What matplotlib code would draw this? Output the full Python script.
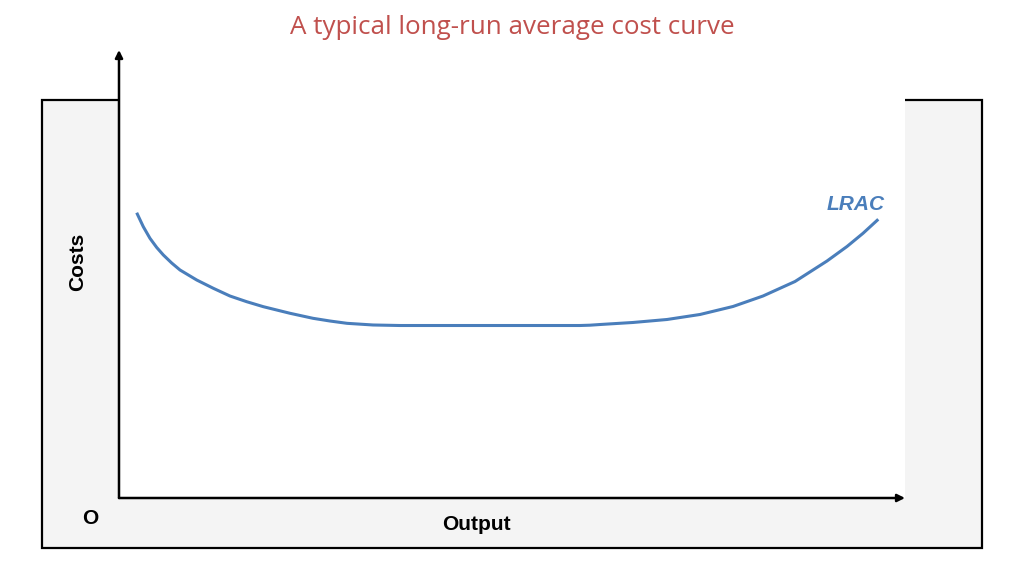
import matplotlib
matplotlib.use("Agg")
import matplotlib.pyplot as plt
from matplotlib.patches import Rectangle

# LRAC curve (output, cost), axes 0..100
output = [2.25, 3.09, 3.94, 4.80, 5.64, 6.70, 7.76, 9.89, 12.00, 14.12, 16.25, 18.36,
          21.76, 24.68, 26.84, 29.01, 32.32, 35.75, 45.93, 58.65, 59.92, 61.20, 65.39,
          69.72, 73.92, 78.12, 81.93, 86.01, 90.08, 92.62, 94.66, 96.60]
cost = [71.68, 68.17, 65.25, 62.94, 61.06, 59.05, 57.29, 54.77, 52.69, 50.75, 49.32, 48.07,
        46.41, 45.15, 44.47, 43.89, 43.47, 43.34, 43.34, 43.34, 43.42, 43.59, 44.10,
        44.85, 46.11, 48.12, 50.75, 54.40, 59.55, 63.19, 66.51, 70.03]

title = "A typical long-run average cost curve"
x_label = "Output"
y_label = "Costs"
origin_label = "O"
curve_label = "LRAC"

W, H = 1024, 576
fig = plt.figure(figsize=(W / 100, H / 100), dpi=100)

def fx(px):
    return px / W

def fy(py):
    return 1 - py / H

# gray frame
fig.patches.append(Rectangle((fx(42), fy(548)), fx(982) - fx(42), fy(100) - fy(548),
                             transform=fig.transFigure, facecolor="#f4f4f4",
                             edgecolor="black", linewidth=1.6, zorder=0))

ax = fig.add_axes([fx(119), fy(498), fx(905) - fx(119), fy(97) - fy(498)])
ax.set_facecolor("white")
ax.set_zorder(1)
for s in ax.spines.values():
    s.set_visible(False)
ax.set_xticks([])
ax.set_yticks([])
ax.set_xlim(0, 100)
ax.set_ylim(0, 100 * (498 - 97) / 398)

ax.plot(output, cost, color="#4a7ebb", linewidth=2.2, solid_capstyle="butt",
        solid_joinstyle="round", zorder=3)

# axes arrows
ax.annotate("", xy=(0, (498 - 50) / 401), xytext=(0, 0), xycoords="axes fraction",
            arrowprops=dict(arrowstyle="-|>", lw=1.8, color="black", mutation_scale=11,
                            shrinkA=0, shrinkB=0), annotation_clip=False)
ax.annotate("", xy=(1.0, 0), xytext=(0, 0), xycoords="axes fraction",
            arrowprops=dict(arrowstyle="-|>", lw=1.8, color="black", mutation_scale=11,
                            shrinkA=0, shrinkB=0), annotation_clip=False)

sans = ["Liberation Sans", "DejaVu Sans"]
fig.text(fx(512), fy(27), title, ha="center", va="center", color="#c0504d",
         fontsize=18.7, family=["Open Sans", "DejaVu Sans"])
fig.text(fx(78), fy(262), y_label, ha="center", va="center", rotation=90,
         fontsize=15, fontweight="bold", family=sans)
fig.text(fx(476), fy(525), x_label, ha="center", va="center",
         fontsize=15, fontweight="bold", family=sans)
fig.text(fx(90), fy(519), origin_label, ha="center", va="center",
         fontsize=15, fontweight="bold", family=sans)
fig.text(fx(856), fy(205), curve_label, ha="center", va="center", color="#4a7ebb",
         fontsize=15, fontweight="bold", fontstyle="italic", family=sans, zorder=5)

fig.savefig("out.png", dpi=100)
